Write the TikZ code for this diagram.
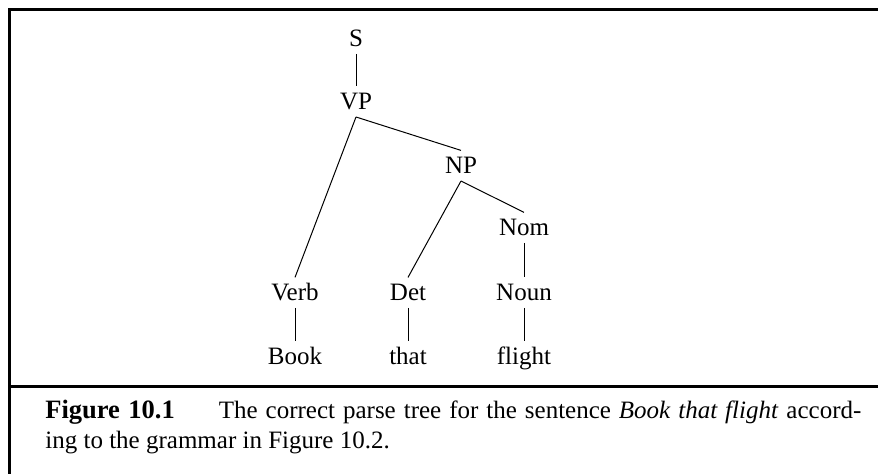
\documentclass[tikz,border=0pt]{standalone}
\usepackage{fontspec}
\setmainfont{Liberation Serif}
\usetikzlibrary{positioning}

\begin{document}
\begin{tikzpicture}[
    x=0.5pt, y=-0.5pt,
    font=\fontsize{12.5}{12.5}\selectfont,
    cat/.style={anchor=base, inner xsep=0pt, inner ysep=3.3pt, text height=8.3pt, text depth=0pt},
    branch/.style={draw=black, line width=0.5pt},
    frame/.style={draw=black, line width=1.5pt},
    captext/.style={anchor=base west, inner sep=0pt, text width=408pt, align=justify, font=\fontsize{12.5}{15}\selectfont}
]
    \useasboundingbox (0,0) rectangle (878,474);

    % Frame and rule above the caption
    \draw[frame] (878,10) -| (9,474);
    \draw[frame] (9,387) -- (878,387);

    % Phrase nodes
    \node[cat] (s) at (356,47) {S};
    \node[cat] (vp) at (356,110) {VP};
    \node[cat] (np) at (461,174) {NP};
    \node[cat] (nom) at (524,236) {Nom};

    % Pre-terminals
    \node[cat] (verb) at (295,301) {Verb};
    \node[cat] (det) at (408,301) {Det};
    \node[cat] (noun) at (524,301) {Noun};

    % Words
    \node[cat] (book) at (295,365) {Book};
    \node[cat] (that) at (408,365) {that};
    \node[cat] (flight) at (524,365) {flight};

    % Branches
    \draw[branch] (s.south) -- (vp.north);
    \draw[branch] (vp.south) -- (verb.north);
    \draw[branch] (vp.south) -- (np.north);
    \draw[branch] (np.south) -- (det.north);
    \draw[branch] (np.south) -- (nom.north);
    \draw[branch] (nom.south) -- (noun.north);
    \draw[branch] (verb.south) -- (book.north);
    \draw[branch] (det.south) -- (that.north);
    \draw[branch] (noun.south) -- (flight.north);

    % Caption
    \node[captext] (caption) at (45,419) {{\fontsize{13.25}{15}\selectfont\bfseries Figure 10.1}\hspace{22pt}The correct parse tree for the sentence \emph{Book that flight} accord-\linebreak ing to the grammar in Figure 10.2.};

\end{tikzpicture}
\end{document}
